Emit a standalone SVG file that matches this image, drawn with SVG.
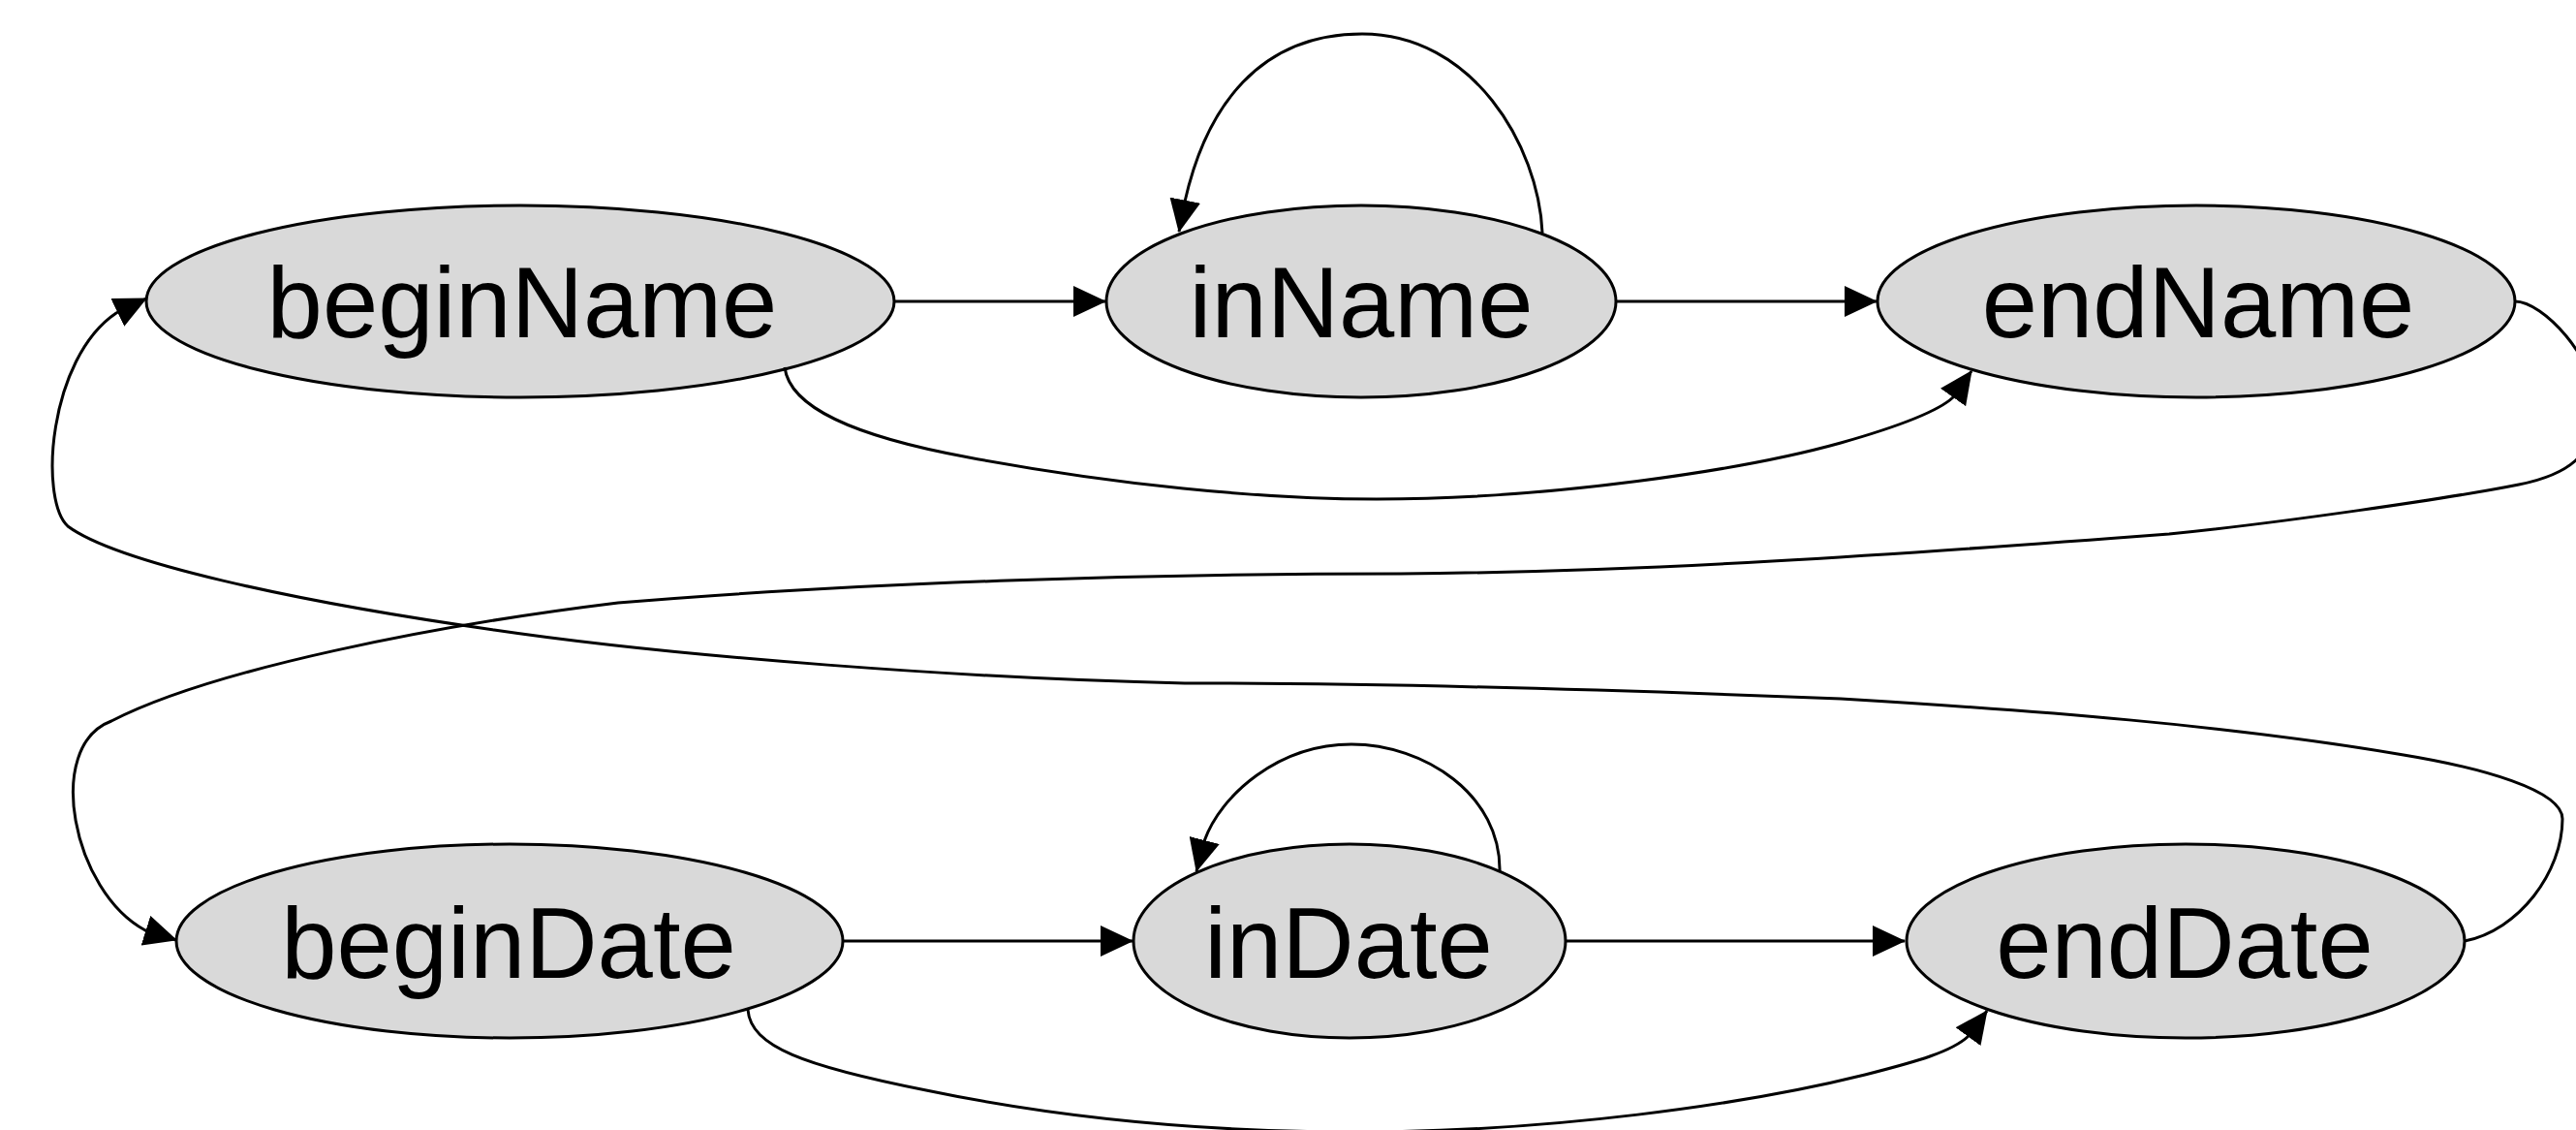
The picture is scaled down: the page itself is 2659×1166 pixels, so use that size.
<svg xmlns="http://www.w3.org/2000/svg" width="2659" height="1166" viewBox="0 0 2659 1166">
<style>
.node ellipse{fill:#d9d9d9;stroke:#000;stroke-width:3}
.node text{font-family:"Liberation Sans",Arial,sans-serif;font-size:103px;fill:#000;text-anchor:middle}
.edge{fill:none;stroke:#000;stroke-width:3;marker-end:url(#arrow)}
</style>
<defs>
<marker id="arrow" markerUnits="userSpaceOnUse" markerWidth="34" markerHeight="32" refX="33" refY="16" orient="auto">
<path d="M0,0 L34,16 L0,32 z" fill="#000"/>
</marker>
</defs>
<rect width="2659" height="1166" fill="#fff"/>
<g id="nodes">
<g id="beginName" class="node"><ellipse cx="537" cy="311" rx="386" ry="99"/><text x="539" y="348">beginName</text></g>
<g id="inName" class="node"><ellipse cx="1405" cy="311" rx="263" ry="99"/><text x="1405" y="348">inName</text></g>
<g id="endName" class="node"><ellipse cx="2267" cy="311" rx="329" ry="99"/><text x="2269" y="348">endName</text></g>
<g id="beginDate" class="node"><ellipse cx="526" cy="971" rx="344" ry="100"/><text x="525" y="1009">beginDate</text></g>
<g id="inDate" class="node"><ellipse cx="1393" cy="971" rx="223" ry="100"/><text x="1392" y="1009">inDate</text></g>
<g id="endDate" class="node"><ellipse cx="2256" cy="971" rx="288" ry="100"/><text x="2255" y="1009">endDate</text></g>
</g>
<g id="connectors">
<path class="edge" d="M923,311 L1141,311"/>
<path class="edge" d="M1668,311 L1937,311"/>
<path class="edge" d="M1592,240 C1588,150 1520,35 1406,35 C1300,35 1245,110 1223,208 L1217,239"/>
<path class="edge" d="M810,379 C815,420 880,450 1000,472 C1150,500 1300,515 1421,515 C1600,515 1800,485 1900,457 C1960,440 2000,425 2016,410 L2035,383"/>
<path class="edge" d="M2596,311 C2625,311 2680,370 2680,420 C2680,470 2650,490 2600,500 C2530,514 2350,540 2239,551 C1950,573 1700,590 1446,592 C1200,592 900,600 638,622 C450,645 220,690 115,744 C45,770 75,920 150,960 L182,970"/>
<path class="edge" d="M2544,971 C2600,960 2645,900 2645,845 C2645,815 2560,792 2481,779 C2300,748 2100,733 1900,721 C1650,711 1400,705 1223,705 C1000,700 700,678 510,650 C300,620 120,580 70,543 C40,515 50,370 120,323 L151,308"/>
<path class="edge" d="M870,971 L1169,971"/>
<path class="edge" d="M1615,971 L1966,971"/>
<path class="edge" d="M1548,900 C1550,820 1470,768 1395,768 C1320,768 1260,820 1243,868 L1235,899"/>
<path class="edge" d="M772,1042 C775,1080 830,1100 956,1125 C1100,1155 1250,1168 1400,1168 C1600,1168 1800,1140 1925,1109 C1980,1095 2015,1085 2032,1069 L2051,1043"/>
</g>
</svg>
